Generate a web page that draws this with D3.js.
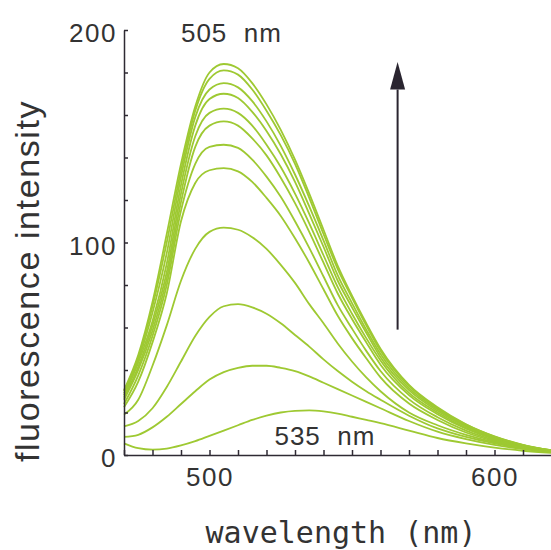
<!DOCTYPE html>
<html>
<head>
<meta charset="utf-8">
<script src="https://cdn.jsdelivr.net/npm/d3@7"></script>
<style>
  html, body { margin: 0; padding: 0; background: #fff; }
  svg { display: block; }
</style>
</head>
<body>
<div id="chart"></div>
<script>
    "use strict";

    // wavelength grid (nm) the spectra were read at
    const wavelengths = [470,475,480,485,490,495,500,505,510,515,520,525,530,535,540,545,550,555,560,570,580,590,600,610,620];

    // emission spectra, one per titration step (low -> high)
    const s21  = [5.5,3.2,2.5,3,4.5,6.5,9,11.5,14,16.5,18.5,20,20.8,21,20.5,19.5,18,16.5,15,11.5,8,5.5,3.5,2,1];
    const s42  = [8.5,9.5,13,18,24,30,35.5,39,41,42,42,41,39.5,37,34,31,28,25,22,16,11,7.5,4.8,2.8,1.4];
    const s71  = [13.5,16,22,32,44,56,65,70,71,69.5,66.5,62,56.5,51,45,39.5,34.5,30,26,18.5,12.5,8.5,5.5,3.2,1.6];
    const s107 = [19,26,42,61,82,97,105,107,106,102.5,97,89.5,81,71,62,52.5,44,36.5,30,20,14,9.5,6,3.5,1.7];
    const s135 = [22.5,34.5,53,76,110,128,134,135,133.5,128.5,121,112.5,102,90.5,78,65.5,55,45.5,36.5,24.2,16.5,10.6,6.5,3.5,1.6];
    const s146 = [24,37.5,56,80,115,137,145,146,144.5,139,131,121.5,110,97.5,84,70.5,59.5,49,39.5,26.2,17.8,11.5,7,3.8,1.7];
    const s157 = [26,40,58.5,83,119,145,155,157,155,149,141,130.5,118.5,105,90.5,76,64,53,42.5,28.2,19.2,12.4,7.5,4.1,1.9];
    const s163 = [27,41.5,61,86,123,150,161,163,161,155,146,135.5,123,109,94,79,66.5,55,44.5,29.2,20,12.8,7.8,4.3,1.9];
    const s170 = [28,43.5,63,90,127,155,167.5,170,168,161.5,152.5,141.5,128.5,113.5,98,82,69.5,57.5,46,30.5,20.8,13.4,8.1,4.4,2];
    const s175 = [29,44.5,67,95,131,159,172,175,173,166.5,157,145.5,132,117,101,84.5,71.5,59,47.5,31.5,21.5,13.8,8.4,4.6,2.1];
    const s181 = [30,46,70,100,134,162,177,181,179,172,162,150.5,137,121,104,87.5,74,61,49,32.5,22,14.3,8.7,4.7,2.2];
    const s184 = [30.5,47,72,104,137,164,180,184,182,175,165,153,139,123,106,89,75,62,50,33,22.5,14.5,8.8,4.8,2.2];
    const series = [s21, s42, s71, s107, s135, s146, s157, s163, s170, s175, s181, s184];

    // axis ticks
    const xTicks = [470,480,490,500,510,520,530,540,550,560,570,580,590,600,610,620];
    const xTickLabels = [500, 600];
    const yTicks = [0,20,40,60,80,100,120,140,160,180,200];
    const yTickLabels = [0, 100, 200];

    // annotations
    const peakLabels = ["505  nm", "535  nm"];

    const width = 551, height = 550;
    const svg = d3.select("#chart").append("svg").attr("width", width).attr("height", height);

    const x = d3.scaleLinear().domain([470, 620]).range([124, 551.5]);
    const y = d3.scaleLinear().domain([0, 200]).range([455, 30]);

    const axisColor = "#2e2a33";
    const numFont = "'Liberation Sans', Arial, sans-serif";

    // spectra
    const line = d3.line()
        .x((d, i) => x(wavelengths[i]))
        .y(d => y(d))
        .curve(d3.curveMonotoneX);

    svg.append("g").selectAll("path")
        .data(series)
        .enter().append("path")
        .attr("d", line)
        .attr("fill", "none")
        .attr("stroke", "#9ec932")
        .attr("stroke-width", 1.8);

    // x axis, ticks pointing up
    const gx = svg.append("g")
        .attr("transform", "translate(0," + y(0) + ")")
        .call(d3.axisBottom(x).tickValues(xTicks).tickSize(-5).tickSizeOuter(0).tickPadding(13)
            .tickFormat(d => xTickLabels.includes(d) ? d : ""));

    // y axis, ticks pointing right
    const gy = svg.append("g")
        .attr("transform", "translate(" + x(470) + ",0)")
        .call(d3.axisLeft(y).tickValues(yTicks).tickSize(-4).tickSizeOuter(0).tickPadding(7)
            .tickFormat(d => yTickLabels.includes(d) ? d : ""));

    [gx, gy].forEach(g => {
        g.selectAll("path, line").attr("stroke", axisColor).attr("stroke-width", 1.5);
        g.selectAll("text")
            .attr("fill", "#333")
            .style("font-family", numFont)
            .style("font-size", "26px")
            .style("letter-spacing", "1.5px");
    });
    gy.selectAll("text").attr("dy", "0.45em");

    // arrow showing increase
    const arrowX = x(566);
    svg.append("line")
        .attr("x1", arrowX).attr("x2", arrowX)
        .attr("y1", y(59)).attr("y2", y(172))
        .attr("stroke", "#2a2530").attr("stroke-width", 2);
    svg.append("path")
        .attr("d", "M" + arrowX + "," + y(185) + "L" + (arrowX - 7.5) + "," + y(172) + "L" + (arrowX + 7.5) + "," + y(172) + "Z")
        .attr("fill", "#2a2530");

    // peak labels
    svg.append("text")
        .attr("x", x(507.7)).attr("y", y(198.6))
        .attr("dy", "0.36em")
        .attr("text-anchor", "middle")
        .attr("fill", "#333")
        .style("font-family", numFont).style("font-size", "26px").style("letter-spacing", "1px")
        .style("white-space", "pre")
        .text(peakLabels[0]);
    svg.append("text")
        .attr("x", x(540.5)).attr("y", y(9))
        .attr("dy", "0.36em")
        .attr("text-anchor", "middle")
        .attr("fill", "#333")
        .style("font-family", numFont).style("font-size", "26px").style("letter-spacing", "1px")
        .style("white-space", "pre")
        .text(peakLabels[1]);

    // axis titles
    svg.append("text")
        .attr("x", 341).attr("y", 543)
        .attr("text-anchor", "middle")
        .attr("fill", "#333")
        .style("font-family", "'DejaVu Sans Mono', 'Liberation Mono', monospace")
        .style("font-size", "30px")
        .text("wavelength (nm)");

    svg.append("text")
        .attr("transform", "translate(39,281) rotate(-90)")
        .attr("text-anchor", "middle")
        .attr("fill", "#333")
        .style("font-family", numFont)
        .style("font-size", "34px")
        .style("letter-spacing", "1.6px")
        .text("fluorescence intensity");
</script>
</body>
</html>
